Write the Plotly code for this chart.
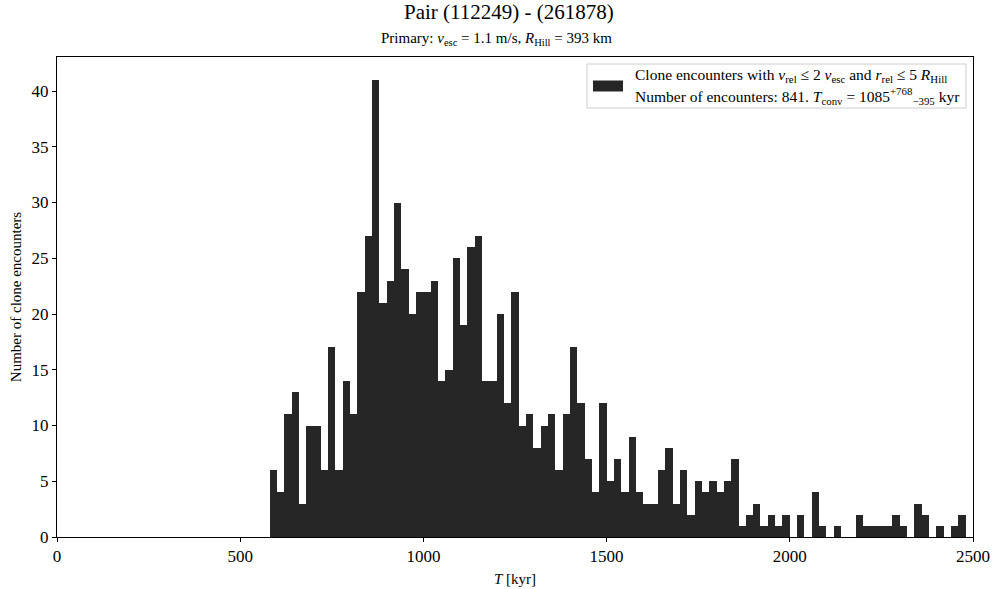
import plotly.graph_objects as go

# Histogram of clone encounter times (kyr), bins of 20 kyr starting at 580 kyr
bin_start_kyr = 580
bin_width_kyr = 20
counts = [
    6, 4, 11, 13, 3, 10, 10, 6, 17, 6, 14, 11, 22, 27, 41, 21, 23, 30, 24, 20, 22, 22, 23, 14,
    15, 25, 19, 26, 27, 14, 14, 20, 12, 22, 10, 11, 8, 10, 11, 6, 11, 17, 12, 7, 4, 12,
    5, 7, 4, 9, 4, 3, 3, 6, 8, 3, 6, 2, 5, 4, 5, 4, 5, 7, 1, 2, 3, 1, 2, 1, 2,
    0, 2, 0, 4, 1, 0, 1, 0, 0, 2, 1, 1, 1, 1, 2, 1, 0, 3, 2, 0, 1, 0, 1, 2, 0,
]
bin_centers = [bin_start_kyr + bin_width_kyr * (i + 0.5) for i in range(len(counts))]

x_ticks = [0, 500, 1000, 1500, 2000, 2500]
y_ticks = [0, 5, 10, 15, 20, 25, 30, 35, 40]

title_text = "Pair (112249) - (261878)"
subtitle_text = "Primary: <i>v</i><sub>esc</sub> = 1.1 m/s, <i>R</i><sub>Hill</sub> = 393 km"
legend_line1 = ("Clone encounters with <i>v</i><sub>rel</sub> ≤ 2 <i>v</i><sub>esc</sub> and "
                "<i>r</i><sub>rel</sub> ≤ 5 <i>R</i><sub>Hill</sub>")
legend_line2 = ("Number of encounters: 841. <i>T</i><sub>conv</sub> = "
                "1085<sup>+768</sup><sub>−395</sub> kyr")

FONT = "Liberation Serif"
BAR_COLOR = "#262626"

fig = go.Figure()
fig.add_trace(go.Bar(
    x=bin_centers, y=counts, width=bin_width_kyr,
    marker=dict(color=BAR_COLOR, line=dict(width=0)),
    name="Clone encounters", showlegend=False,
))

W, H = 995, 589
# plot area in page pixels: x 57..973, y 57..537
L, T = 57, 57
R = W - 973
B = H - 537

fig.update_layout(
    width=W, height=H,
    margin=dict(l=L, r=R, t=T, b=B, autoexpand=False),
    paper_bgcolor="white", plot_bgcolor="white",
    font=dict(family=FONT, color="black", size=17),
    bargap=0,
    xaxis=dict(
        range=[0, 2500], tickvals=x_ticks, ticktext=[str(v) for v in x_ticks],
        ticks="outside", ticklen=4, tickwidth=1, tickcolor="black",
        showline=True, linecolor="black", linewidth=1, mirror=True,
        showgrid=False, zeroline=False, automargin=False,
        tickfont=dict(size=17),
        title=dict(text="<i>T</i> [kyr]", font=dict(size=15), standoff=8),
    ),
    yaxis=dict(
        range=[0, 43.05], tickvals=y_ticks, ticktext=[str(v) for v in y_ticks],
        ticks="outside", ticklen=4, tickwidth=1, tickcolor="black",
        showline=True, linecolor="black", linewidth=1, mirror=True,
        showgrid=False, zeroline=False, automargin=False,
        tickfont=dict(size=17),
        title=dict(text="Number of clone encounters", font=dict(size=15), standoff=6),
    ),
)

pw = W - L - R
ph = H - T - B
def px2x(px):
    return (px - L) / pw
def py2y(py):
    return (H - B - py) / ph

# Titles
fig.add_annotation(text=title_text, xref="paper", yref="paper",
                   x=px2x(509), y=py2y(12), xanchor="center", yanchor="middle",
                   showarrow=False, font=dict(size=21))
fig.add_annotation(text=subtitle_text, xref="paper", yref="paper",
                   x=px2x(496), y=py2y(39), xanchor="center", yanchor="middle",
                   showarrow=False, font=dict(size=15))

# Manual legend (matplotlib-like)
fig.add_shape(type="rect", xref="paper", yref="paper",
              x0=px2x(587), x1=px2x(966), y0=py2y(108), y1=py2y(64),
              line=dict(color="#cccccc", width=1), fillcolor="rgba(255,255,255,0.8)")
fig.add_shape(type="rect", xref="paper", yref="paper",
              x0=px2x(593), x1=px2x(623), y0=py2y(91.5), y1=py2y(80.5),
              line=dict(width=0), fillcolor=BAR_COLOR)
fig.add_annotation(text=legend_line1, xref="paper", yref="paper",
                   x=px2x(633), y=py2y(76), xanchor="left", yanchor="middle",
                   showarrow=False, font=dict(size=15.5))
fig.add_annotation(text=legend_line2, xref="paper", yref="paper",
                   x=px2x(633), y=py2y(96), xanchor="left", yanchor="middle",
                   showarrow=False, font=dict(size=15.5))

fig.write_html(
    "out.html",
    config={"displayModeBar": False},
    post_script="document.body.style.margin='0';document.body.style.padding='0';",
)
